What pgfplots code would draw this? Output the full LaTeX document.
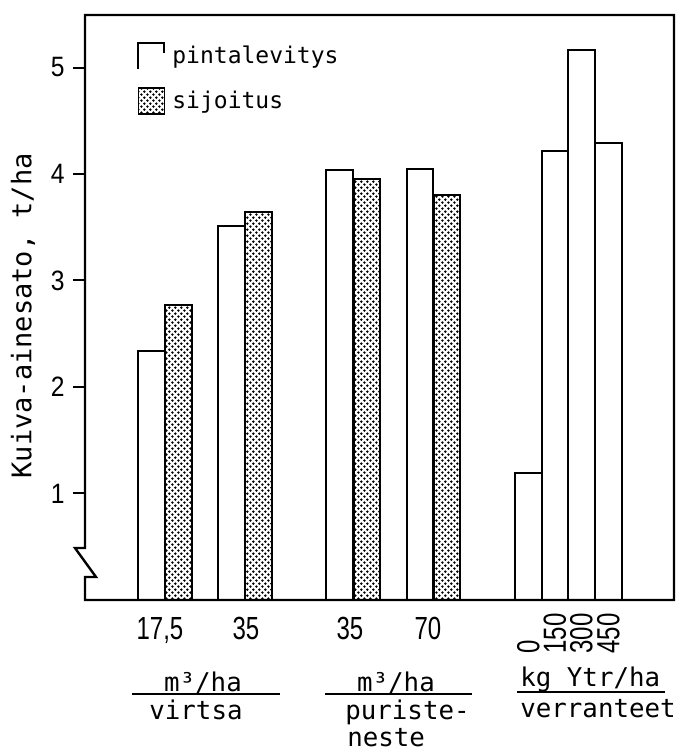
\documentclass[border=0pt]{standalone}
\usepackage{fontspec}
\setmainfont{DejaVu Sans Mono}
\newfontfamily\ytfont[FakeStretch=0.88]{Liberation Sans}
\newfontfamily\xtfont[FakeStretch=0.75]{Liberation Sans}
\newfontfamily\rtfont{Liberation Sans}
\usepackage{pgfplots}
\pgfplotsset{compat=1.18}
\usetikzlibrary{patterns}
\pgfdeclarepatternformonly{mydots}{\pgfqpoint{0pt}{0pt}}{\pgfqpoint{3.2pt}{3.2pt}}{\pgfqpoint{3.2pt}{3.2pt}}{%
  \pgfpathcircle{\pgfqpoint{0.8pt}{0.8pt}}{0.72pt}%
  \pgfpathcircle{\pgfqpoint{2.4pt}{2.4pt}}{0.72pt}%
  \pgfusepath{fill}}

\begin{document}
\begin{tikzpicture}
\begin{axis}[
  scale only axis, width=294.5pt, height=292.5pt,
  xmin=85, xmax=674, ymin=0, ymax=5.493,
  clip=false,
  axis line style={draw=none},
  ytick={1,2,3,4,5}, yticklabels={1,2,3,4,5},
  ytick pos=left, tick align=outside, major tick length=6pt,
  ytick style={line width=1pt, black},
  yticklabel style={font=\ytfont\fontsize{14}{14}\selectfont, inner sep=4pt},
  xtick={160,246,350,428}, xticklabels={{17,5},35,35,70},
  xtick style={draw=none},
  xtick pos=bottom,
  xticklabel style={font=\xtfont\fontsize{16}{16}\selectfont, inner sep=2.5pt},
  extra x ticks={528.5,555,581.5,608.5},
  extra x tick labels={\makebox[18pt][l]{0},\makebox[18pt][l]{150},\makebox[18pt][l]{300},\makebox[18pt][l]{450}},
  extra x tick style={tick label style={rotate=90, anchor=east, font=\rtfont\fontsize{10.5}{10.5}\selectfont, inner sep=0pt}},
  ylabel={Kuiva-ainesato, t/ha},
  ylabel style={at={(axis cs:23,2.667)}, anchor=center, font=\fontsize{13.5}{13.5}\selectfont},
  legend style={at={(axis cs:137,5.239)}, anchor=north west, draw=none, fill=none,
    inner sep=0pt, row sep=8.5pt, font=\fontsize{11.5}{11.5}\selectfont,
    nodes={inner sep=0pt},
    /tikz/every odd column/.append style={column sep=3.5pt}},
  legend cell align=left,
]
% pintalevitys (also the verranteet bars)
\addplot[ybar, bar width=26.8, bar shift=0pt, draw=black, line width=1pt, fill=white,
  legend image code/.code={\draw[line width=1pt] (13pt,1.5pt) -- (13pt,6.5pt) -- (0pt,6.5pt) -- (0pt,-6.5pt);}]
  coordinates {(151.5,2.34) (231.5,3.51) (339.5,4.04) (420,4.05)
               (528.5,1.19) (555,4.22) (581.5,5.16) (608.5,4.29)};
% sijoitus
\addplot[ybar, bar width=26.8, bar shift=0pt, draw=black, line width=1pt, pattern=mydots,
  legend image code/.code={\draw[line width=0.7pt, pattern=mydots] (0pt,-6.5pt) rectangle (13pt,6.5pt);}]
  coordinates {(178.5,2.77) (258.5,3.64) (367,3.95) (447,3.80)};
\legend{pintalevitys, sijoitus}

% frame with axis break
\draw[line width=1.2pt] (axis cs:85,0.216) -- (axis cs:85,0) -- (axis cs:674,0) -- (axis cs:674,5.493)
  -- (axis cs:85,5.493) -- (axis cs:85,0.488) -- (axis cs:75,0.488) -- (axis cs:96,0.216) -- cycle;

% group captions
\node[anchor=base, font=\fontsize{12.9}{12.9}\selectfont] at (axis cs:203,-0.864) {m³/ha};
\draw[line width=1pt] (axis cs:132,-0.883) -- (axis cs:280,-0.883);
\node[anchor=base, font=\fontsize{12.9}{12.9}\selectfont] at (axis cs:196,-1.127) {virtsa};
\node[anchor=base, font=\fontsize{12.9}{12.9}\selectfont] at (axis cs:396,-0.864) {m³/ha};
\draw[line width=1pt] (axis cs:325,-0.883) -- (axis cs:472,-0.883);
\node[anchor=base west, inner sep=0pt, font=\fontsize{12.9}{12.9}\selectfont] at (axis cs:345,-1.127) {puriste-};
\node[anchor=base west, inner sep=0pt, font=\fontsize{12.9}{12.9}\selectfont] at (axis cs:347,-1.380) {neste};
\node[anchor=base west, inner sep=0pt, font=\fontsize{12.9}{12.9}\selectfont] at (axis cs:520,-0.808) {kg Ytr/ha};
\draw[line width=1pt] (axis cs:517,-0.865) -- (axis cs:665,-0.865);
\node[anchor=base west, inner sep=0pt, font=\fontsize{12.9}{12.9}\selectfont] at (axis cs:520,-1.108) {verranteet};

% fix the picture size to the reference proportions
\path (axis cs:0,5.634) (axis cs:683,-1.437);
\end{axis}
\end{tikzpicture}
\end{document}
